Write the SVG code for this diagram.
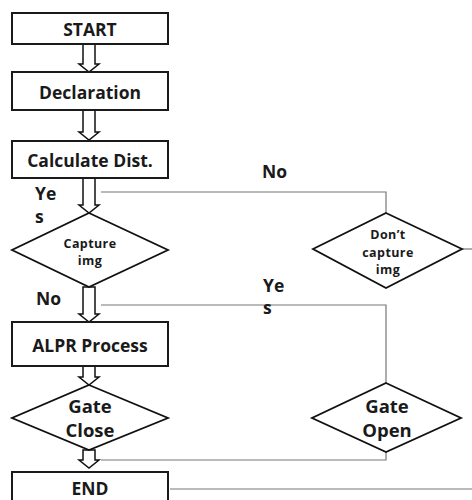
<svg xmlns="http://www.w3.org/2000/svg" width="472" height="500" viewBox="0 0 472 500">
<defs>
<style>
.box{fill:#fff;stroke:#1a1a1a;stroke-width:2}
.dia{fill:#fff;stroke:#111;stroke-width:1.8}
.barr{fill:#fff;stroke:#111;stroke-width:1.5;stroke-linejoin:miter}
.ln{fill:none;stroke:#777;stroke-width:1.2}
text{font-family:"Open Sans","Liberation Sans",sans-serif;font-weight:bold;fill:#1a1a1a;text-anchor:middle}
.t{font-size:17.5px}
.g{font-size:18.5px}
.s{font-size:12.5px;letter-spacing:0.4px}
.lab{font-size:17.5px;text-anchor:start}
</style>
</defs>
<rect width="472" height="500" fill="#fff"/>
<g id="connectors">
<path class="barr" d="M83,44 V64 H79 L89,72 L99,64 H95 V44 Z"/>
<path class="barr" d="M83,110 V132 H79 L89,140 L99,132 H95 V110 Z"/>
<path class="barr" d="M83,178 V205 H79 L89,213 L99,205 H95 V178 Z"/>
<path class="barr" d="M83,287 V314 H79 L89,322 L99,314 H95 V287 Z"/>
<path class="barr" d="M83,366 V377 H79 L89,385 L99,377 H95 V366 Z"/>
<path class="barr" d="M83,450 V460 H79 L89,468 L99,460 H95 V450 Z"/>
<path class="ln" d="M101,192 H386 V213"/>
<path class="ln" d="M101,305 H386 V383"/>
<path class="ln" d="M386,452 V460 H101"/>
<path class="ln" d="M462,249 H472"/>
<path class="ln" d="M472,489 H170"/>
</g>
<g id="start"><rect class="box" x="12" y="13" width="156" height="31"/><text class="t" x="90" y="36">START</text></g>
<g id="declaration"><rect class="box" x="12" y="72" width="156" height="38"/><text class="t" x="90" y="99">Declaration</text></g>
<g id="calc"><rect class="box" x="12" y="141" width="156" height="37"/><text class="t" x="90" y="167">Calculate Dist.</text></g>
<g id="capture"><polygon class="dia" points="89,213 168,250 89,287 12,250"/><text class="s" x="90" y="248">Capture</text><text class="s" x="90" y="265">img</text></g>
<g id="dontcapture"><polygon class="dia" points="386,213 462,249 386,288 313,249"/><text class="s" x="388" y="239">Don’t</text><text class="s" x="388" y="257">capture</text><text class="s" x="388" y="274">img</text></g>
<g id="alpr"><rect class="box" x="12" y="322" width="156" height="44"/><text class="t" x="90" y="352">ALPR Process</text></g>
<g id="gateclose"><polygon class="dia" points="89,385 168,418 89,450 12,418"/><text class="g" x="90" y="413">Gate</text><text class="g" x="90" y="437">Close</text></g>
<g id="gateopen"><polygon class="dia" points="386,383 461,418 386,452 312,418"/><text class="g" x="387" y="413">Gate</text><text class="g" x="387" y="437">Open</text></g>
<g id="end"><rect class="box" x="12" y="472" width="156" height="34"/><text class="t" x="90" y="495">END</text></g>
<g id="labels">
<text class="lab" x="35" y="200">Ye</text><text class="lab" x="35" y="223">s</text>
<text class="lab" x="36" y="305">No</text>
<text class="lab" x="262" y="178">No</text>
<text class="lab" x="263" y="292">Ye</text><text class="lab" x="263" y="314">s</text>
</g>
</svg>
